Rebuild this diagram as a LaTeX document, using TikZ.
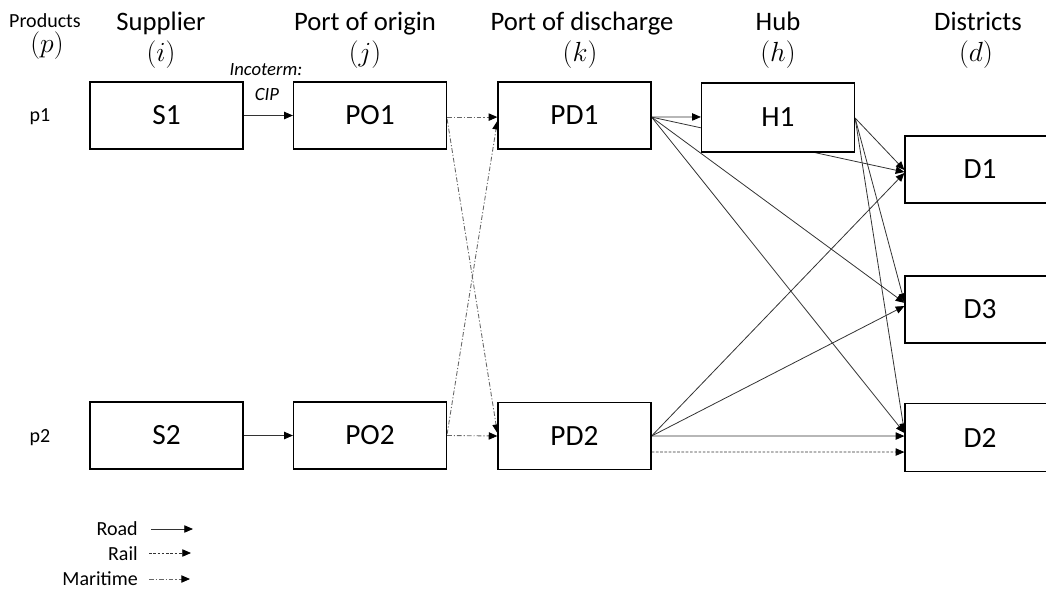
\documentclass[tikz,border=0pt]{standalone}
\usepackage{fontspec}
\setmainfont{Carlito}
\usetikzlibrary{arrows.meta,backgrounds}
\begin{document}
\begin{tikzpicture}[x=0.75pt,y=-0.75pt,
  box/.style={draw=black,line width=0.9pt,fill=white,minimum width=114.75pt,minimum height=50.25pt,inner sep=0pt,font=\fontsize{22}{26}\selectfont},
  hdr/.style={font=\fontsize{20}{24}\selectfont,anchor=base,inner sep=0pt},
  small/.style={font=\fontsize{15}{18}\selectfont,inner sep=0pt,anchor=base},
  road/.style={draw=black!80,line width=0.6pt,-{Triangle[length=6.5pt,width=5.5pt,color=black]}},
  rail/.style={road,dash pattern=on 2pt off 1.2pt},
  sea/.style={road,draw=black!60,line width=0.65pt,dash pattern=on 3.5pt off 1.5pt on 0.9pt off 1.5pt},
]
\useasboundingbox (0,0) rectangle (1046,590);
\clip (0,0) rectangle (1046,590);

% headers
\node[small] (hp) at (45,27) {Products};
\node[hdr] (hpm) at (47,52) {$(p)$};
\node[hdr] (hs) at (161,30) {Supplier};
\node[hdr] (hsm) at (161,61) {$(i)$};
\node[hdr] (hj) at (365,30) {Port of origin};
\node[hdr] (hjm) at (365,61) {$(j)$};
\node[hdr] (hk) at (582,30) {Port of discharge};
\node[hdr] (hkm) at (580,61) {$(k)$};
\node[hdr] (hh) at (778,30) {Hub};
\node[hdr] (hhm) at (778,61) {$(h)$};
\node[hdr] (hd) at (978,30) {Districts};
\node[hdr] (hdm) at (976,61) {$(d)$};

\node[small] (p1) at (40,121) {p1};
\node[small] (p2) at (40,442) {p2};

% boxes
\node[box] (S1) at (166.5,115.5) {S1};
\node[box] (PO1) at (370,115.5) {PO1};
\node[box] (PD1) at (574.5,115.5) {PD1};
\node[box,minimum height=51.75pt] (H1) at (778,117.5) {H1};
\node[box,minimum width=112.5pt] (D1) at (980,169.5) {D1};
\node[box,minimum width=112.5pt] (D3) at (980,309.5) {D3};
\node[box,minimum width=112.5pt,minimum height=51pt] (D2) at (980,437.5) {D2};
\node[box] (S2) at (166.5,435.5) {S2};
\node[box] (PO2) at (370,435.5) {PO2};
\node[box] (PD2) at (574.5,436) {PD2};

\node[font=\fontsize{14}{16}\selectfont\itshape,inner sep=0pt,anchor=base] (inc) at (266,75) {Incoterm:};
\node[font=\fontsize{14}{16}\selectfont\itshape,inner sep=0pt,anchor=base] (cip) at (267,100) {CIP};

\begin{scope}[on background layer]
  \draw[road] (S1.east) -- (PO1.west);
  \draw[road] (S2.east) -- (PO2.west);
  \draw[sea] ([yshift=-1.2pt]PO1.east) -- ([yshift=-1.2pt]PD1.west);
  \draw[sea] ([yshift=-2.6pt]PO1.east) -- ([yshift=2.2pt]PD2.west);
  \draw[sea] ([yshift=1pt]PO2.east) -- ([yshift=-4pt]PD1.west);
  \draw[sea] (PO2.east) -- (PD2.west);
  % from PD1
  \draw[road] ([yshift=-1.2pt]PD1.east) -- ([yshift=0.4pt]H1.west);
  \draw[road] ([yshift=-1.2pt]PD1.east) -- ([yshift=-1.9pt]D1.west);
  \draw[road] ([yshift=-1.2pt]PD1.east) -- ([yshift=5pt]D3.west);
  \draw[road] ([yshift=-1.2pt]PD1.east) -- ([yshift=3.4pt]D2.west);
  % from H1
  \draw[road] ([yshift=-0.4pt]H1.east) -- ([yshift=-0.4pt]D1.west);
  \draw[road] ([yshift=-0.4pt]H1.east) -- ([yshift=5.6pt]D3.west);
  \draw[road] ([yshift=-0.4pt]H1.east) -- ([yshift=4.1pt]D2.west);
  % from PD2
  \draw[road] (PD2.east) -- ([yshift=-2.6pt]D1.west);
  \draw[road] (PD2.east) -- ([yshift=2.6pt]D3.west);
  \draw[road] (PD2.east) -- ([yshift=1.1pt]D2.west);
  \draw[rail] ([yshift=-12pt]PD2.east) -- ([yshift=-10.9pt]D2.west);
\end{scope}

% legend
\node[small,anchor=base east] (lroad) at (138,535) {Road};
\node[small,anchor=base east] (lrail) at (138,560) {Rail};
\node[small,anchor=base east] (lsea) at (138,585) {Maritime};
\coordinate (ra) at (151,529);
\coordinate (rb) at (193,529);
\coordinate (la) at (149,553);
\coordinate (lb) at (191,553);
\coordinate (ma) at (149,579);
\coordinate (mb) at (190,579);
\draw[road] (ra) -- (rb);
\draw[rail] (la) -- (lb);
\draw[sea] (ma) -- (mb);
\end{tikzpicture}
\end{document}
